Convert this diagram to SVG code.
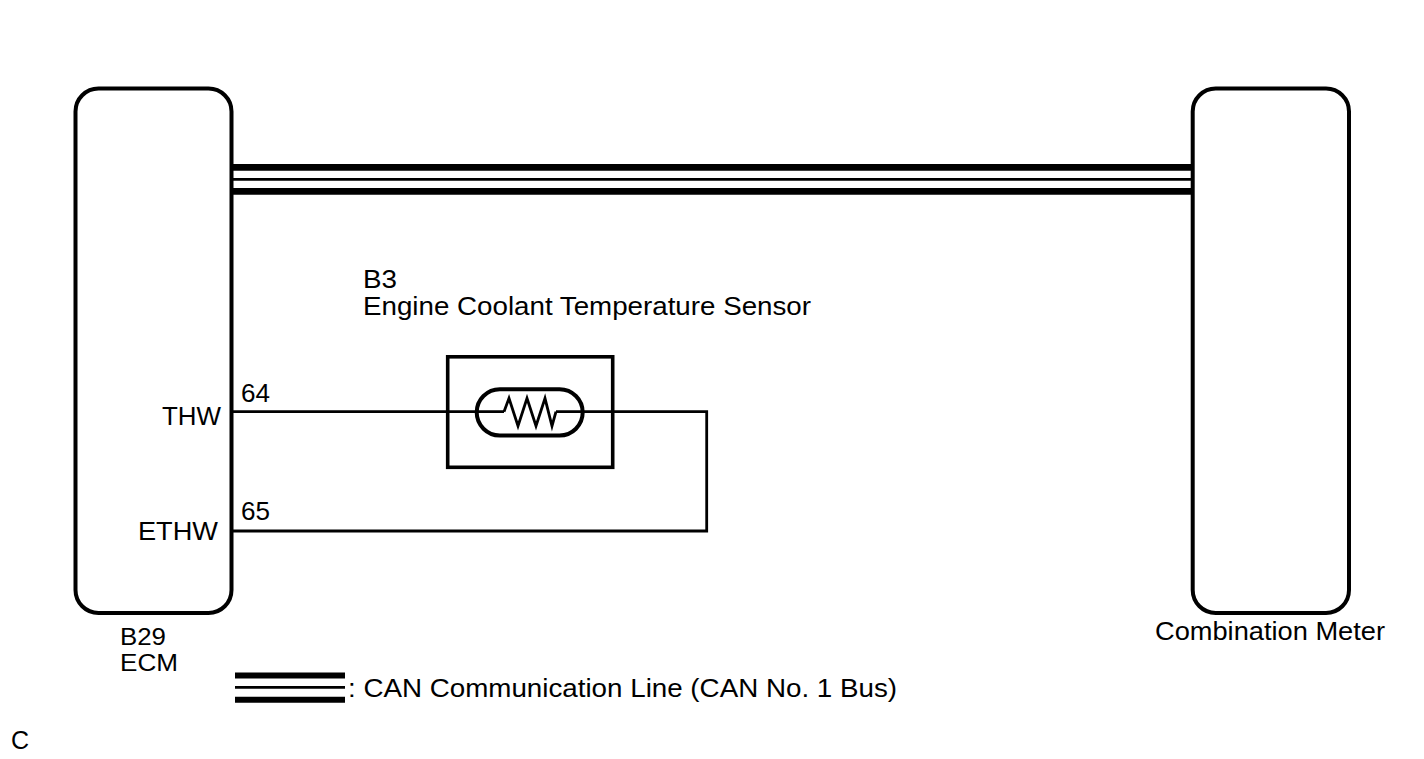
<svg xmlns="http://www.w3.org/2000/svg" width="1424" height="759" viewBox="0 0 1424 759">
<style>
.t{font-family:"Liberation Sans",Arial,sans-serif;font-size:25px;fill:#000}
.s{font-size:23.5px}
.box{fill:none;stroke:#000;stroke-width:4}
.w{fill:none;stroke:#000;stroke-width:2.8;stroke-linejoin:miter}
.can{stroke:#000;fill:none}
</style>
<rect x="0" y="0" width="1424" height="759" fill="#fff"/>
<g id="ecm">
<rect class="box" x="75.5" y="88.5" width="156" height="524.5" rx="23" ry="23"/>
<text class="t" x="162" y="425" textLength="59" lengthAdjust="spacingAndGlyphs">THW</text>
<text class="t" x="138" y="540" textLength="80" lengthAdjust="spacingAndGlyphs">ETHW</text>
<text class="t s" x="120" y="645" textLength="46" lengthAdjust="spacingAndGlyphs">B29</text>
<text class="t s" x="120" y="670.5" textLength="58" lengthAdjust="spacingAndGlyphs">ECM</text>
</g>
<g id="combination-meter">
<rect class="box" x="1192.7" y="88.5" width="156.3" height="524.5" rx="23" ry="23"/>
<text class="t" x="1155" y="640" textLength="230" lengthAdjust="spacingAndGlyphs">Combination Meter</text>
</g>
<g id="sensor">
<rect fill="none" stroke="#000" stroke-width="3.6" x="447.7" y="356.8" width="165" height="110.5"/>
<rect fill="none" stroke="#000" stroke-width="4" x="476.7" y="389.2" width="106" height="46.3" rx="23.15" ry="23.15"/>
<polyline class="w" points="504,411.7 509,398.3 518,426 527,398.3 536,426 545,398.3 552,426 556,411.7"/>
<text class="t" x="363" y="288" textLength="34" lengthAdjust="spacingAndGlyphs">B3</text>
<text class="t" x="363" y="315" textLength="448" lengthAdjust="spacingAndGlyphs">Engine Coolant Temperature Sensor</text>
</g>
<g id="connectors">
<line class="can" x1="232" y1="167.4" x2="1192" y2="167.4" stroke-width="6.7"/>
<line class="can" x1="232" y1="179.4" x2="1192" y2="179.4" stroke-width="2.7"/>
<line class="can" x1="232" y1="191.4" x2="1192" y2="191.4" stroke-width="6.7"/>
<polyline class="w" points="232,411.7 504,411.7"/>
<polyline class="w" points="556,411.7 706.7,411.7 706.7,531 232,531"/>
<text class="t" x="241" y="402" textLength="29" lengthAdjust="spacingAndGlyphs">64</text>
<text class="t" x="241" y="519.5" textLength="29" lengthAdjust="spacingAndGlyphs">65</text>
</g>
<g id="legend">
<line class="can" x1="235" y1="675.5" x2="345" y2="675.5" stroke-width="5.8"/>
<line class="can" x1="235" y1="687.4" x2="345" y2="687.4" stroke-width="2.7"/>
<line class="can" x1="235" y1="699.7" x2="345" y2="699.7" stroke-width="6"/>
<text class="t" x="348" y="697" textLength="549" lengthAdjust="spacingAndGlyphs">: CAN Communication Line (CAN No. 1 Bus)</text>
</g>
<text class="t" x="11" y="749">C</text>
</svg>
